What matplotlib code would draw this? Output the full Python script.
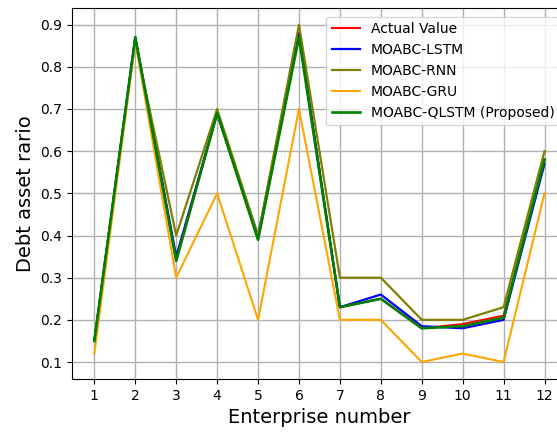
import matplotlib
matplotlib.use("Agg")
import matplotlib.pyplot as plt

enterprise = list(range(1, 13))
actual = [0.15, 0.87, 0.34, 0.69, 0.39, 0.88, 0.23, 0.25, 0.18, 0.19, 0.21, 0.58]
lstm = [0.15, 0.87, 0.35, 0.69, 0.40, 0.88, 0.23, 0.26, 0.185, 0.18, 0.20, 0.57]
rnn = [0.15, 0.86, 0.40, 0.70, 0.40, 0.90, 0.30, 0.30, 0.20, 0.20, 0.23, 0.60]
gru = [0.12, 0.86, 0.30, 0.50, 0.20, 0.70, 0.20, 0.20, 0.10, 0.12, 0.10, 0.50]
qlstm = [0.15, 0.87, 0.34, 0.69, 0.39, 0.87, 0.23, 0.25, 0.18, 0.185, 0.205, 0.58]

fig = plt.figure(figsize=(5.57, 4.33), dpi=100)
ax = fig.add_axes([0.129, 0.125, 0.889, 0.857])

ax.plot(enterprise, actual, color="red", lw=1.5, label="Actual Value")
ax.plot(enterprise, lstm, color="blue", lw=1.6, label="MOABC-LSTM")
ax.plot(enterprise, rnn, color="olive", lw=1.6, label="MOABC-RNN")
ax.plot(enterprise, gru, color="orange", lw=1.5, label="MOABC-GRU")
ax.plot(enterprise, qlstm, color="green", lw=1.9, label="MOABC-QLSTM (Proposed)")

ax.set_xticks(enterprise)
ax.set_xlabel("Enterprise number", fontsize=14)
ax.set_ylabel("Debt asset rario", fontsize=14)
ax.grid(True, lw=1, color="#b0b0b0")
ax.legend(loc="upper right", fontsize=10, bbox_to_anchor=(1.0, 0.995))

plt.savefig("out.png", dpi=100)
plt.close()
